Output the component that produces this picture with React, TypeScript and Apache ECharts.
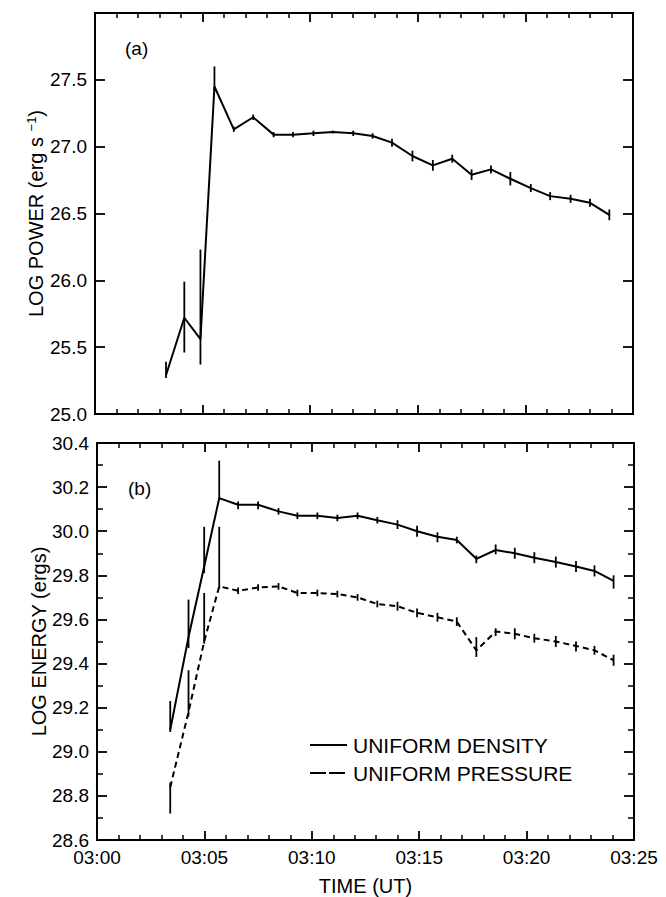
import React, { useEffect, useRef } from "react";
import * as echarts from "echarts";

// Panel (a): log power
const timesA = [3.3, 4.15, 4.9, 5.55, 6.45, 7.35, 8.3, 9.2, 10.15, 11.05, 12.0, 12.9, 13.8, 14.75, 15.7, 16.6, 17.5, 18.4, 19.3, 20.25, 21.15, 22.1, 23.0, 23.9];
const powerA = [25.29, 25.72, 25.56, 27.45, 27.13, 27.22, 27.09, 27.09, 27.10, 27.11, 27.10, 27.08, 27.03, 26.93, 26.86, 26.91, 26.79, 26.83, 26.76, 26.69, 26.63, 26.61, 26.58, 26.49];
const powerLow = [25.27, 25.46, 25.37, 27.42, 27.11, 27.20, 27.07, 27.07, 27.08, 27.10, 27.08, 27.06, 27.00, 26.89, 26.82, 26.88, 26.75, 26.80, 26.71, 26.66, 26.60, 26.58, 26.55, 26.45];
const powerHigh = [25.39, 25.99, 26.23, 27.60, 27.15, 27.24, 27.11, 27.11, 27.12, 27.12, 27.12, 27.10, 27.06, 26.97, 26.90, 26.94, 26.83, 26.86, 26.81, 26.72, 26.66, 26.64, 26.61, 26.53];

// Panel (b): log energy
const timesB = [3.41, 4.26, 4.99, 5.69, 6.57, 7.5, 8.45, 9.33, 10.26, 11.19, 12.13, 13.05, 13.99, 14.9, 15.85, 16.75, 17.66, 18.56, 19.45, 20.36, 21.36, 22.3, 23.16, 24.05];
const density = [29.10, 29.52, 29.84, 30.15, 30.12, 30.12, 30.09, 30.07, 30.07, 30.06, 30.07, 30.05, 30.03, 30.0, 29.975, 29.96, 29.875, 29.915, 29.9, 29.88, 29.86, 29.84, 29.82, 29.775];
const densityLow = [29.09, 29.47, 29.81, 30.14, 30.10, 30.10, 30.075, 30.055, 30.055, 30.045, 30.055, 30.035, 30.01, 29.975, 29.95, 29.945, 29.855, 29.895, 29.875, 29.855, 29.835, 29.815, 29.795, 29.74];
const densityHigh = [29.23, 29.69, 30.02, 30.32, 30.135, 30.135, 30.105, 30.085, 30.085, 30.075, 30.085, 30.065, 30.05, 30.025, 29.995, 29.975, 29.89, 29.94, 29.925, 29.905, 29.885, 29.865, 29.845, 29.80];
const pressure = [28.84, 29.18, 29.50, 29.75, 29.73, 29.745, 29.75, 29.72, 29.72, 29.715, 29.70, 29.67, 29.66, 29.63, 29.61, 29.59, 29.46, 29.545, 29.535, 29.515, 29.50, 29.48, 29.46, 29.415];
const pressureLow = [28.72, 29.16, 29.49, 29.74, 29.715, 29.73, 29.735, 29.705, 29.705, 29.70, 29.685, 29.655, 29.64, 29.61, 29.59, 29.57, 29.43, 29.525, 29.51, 29.495, 29.475, 29.455, 29.44, 29.39];
const pressureHigh = [28.86, 29.37, 29.72, 30.02, 29.745, 29.76, 29.765, 29.735, 29.735, 29.73, 29.715, 29.685, 29.68, 29.65, 29.63, 29.61, 29.52, 29.56, 29.56, 29.535, 29.525, 29.50, 29.48, 29.44];

const seriesNames = ["UNIFORM DENSITY", "UNIFORM PRESSURE"];
const FONT = "Liberation Sans";

function pairs(t: number[], v: number[]) {
  return t.map((x, i) => [x, v[i]]);
}
function triples(t: number[], lo: number[], hi: number[]) {
  return t.map((x, i) => [x, lo[i], hi[i]]);
}

const errRender = (params: any, api: any) => {
  const x = api.value(0);
  const p1 = api.coord([x, api.value(1)]);
  const p2 = api.coord([x, api.value(2)]);
  return {
    type: "line",
    shape: { x1: p1[0], y1: p1[1], x2: p2[0], y2: p2[1] },
    style: { stroke: "#000", lineWidth: 1.8 },
  };
};

function xAxisDef(gridIndex: number, position: string, labels: boolean) {
  return {
    type: "value",
    gridIndex,
    position,
    min: 0,
    max: 25,
    interval: 5,
    axisLine: { show: true, onZero: false, lineStyle: { color: "#000", width: 2 } },
    axisTick: { show: true, inside: true, length: 9, lineStyle: { color: "#000", width: 1.8 } },
    minorTick: { show: true, splitNumber: 5, length: 5, lineStyle: { color: "#000", width: 1.5 } },
    splitLine: { show: false },
    axisLabel: {
      show: labels,
      margin: 8,
      color: "#000",
      fontFamily: FONT,
      fontSize: 19,
      formatter: (v: number) => "03:" + String(Math.round(v)).padStart(2, "0"),
    },
  };
}

function yAxisDef(gridIndex: number, position: string, min: number, max: number, interval: number, minorSplit: number, labels: boolean) {
  return {
    type: "value",
    gridIndex,
    position,
    min,
    max,
    interval,
    axisLine: { show: true, onZero: false, lineStyle: { color: "#000", width: 2 } },
    axisTick: { show: true, inside: true, length: 10, lineStyle: { color: "#000", width: 1.8 } },
    minorTick: { show: minorSplit > 1, splitNumber: minorSplit, length: 6, lineStyle: { color: "#000", width: 1.5 } },
    splitLine: { show: false },
    axisLabel: {
      show: labels,
      margin: 8,
      color: "#000",
      fontFamily: FONT,
      fontSize: 19,
      showMaxLabel: gridIndex === 0 ? false : true,
      formatter: (v: number) => v.toFixed(1),
    },
  };
}

export default function App() {
  const ref = useRef<HTMLDivElement>(null);
  useEffect(() => {
    document.body.style.margin = "0";
    const chart = echarts.init(ref.current!, null, { renderer: "svg" });
    const yA = yAxisDef(0, "left", 25, 28, 0.5, 0, true) as any;
    yA.name = "LOG POWER (erg s {sup|−1})";
    yA.nameLocation = "middle";
    yA.nameGap = 48;
    yA.nameMoveOverlap = false;
    yA.nameTextStyle = {
      color: "#000",
      fontFamily: FONT,
      fontSize: 20,
      lineHeight: 22,
      rich: { sup: { fontSize: 13, fontFamily: FONT, color: "#000", verticalAlign: "top", lineHeight: 22, padding: [0, 0, 9, 0] } },
    };
    const yB = yAxisDef(1, "left", 28.6, 30.4, 0.2, 2, true) as any;
    yB.name = "LOG ENERGY (ergs)";
    yB.nameLocation = "middle";
    yB.nameGap = 48;
    yB.nameMoveOverlap = false;
    yB.nameTextStyle = { color: "#000", fontFamily: FONT, fontSize: 20 };
    const xB = xAxisDef(1, "bottom", true) as any;
    xB.name = "TIME (UT)";
    xB.nameLocation = "middle";
    xB.nameGap = 36;
    xB.nameTextStyle = { color: "#000", fontFamily: FONT, fontSize: 20 };

    const legendText = `21px "${FONT}"`;
    const option: any = {
      animation: false,
      backgroundColor: "#fff",
      grid: [
        { left: 95, top: 13, width: 538, height: 401 },
        { left: 97, top: 443, width: 537, height: 403 },
      ],
      xAxis: [
        xAxisDef(0, "bottom", false),
        xAxisDef(0, "top", false),
        xB,
        xAxisDef(1, "top", false),
      ],
      yAxis: [
        yA,
        yAxisDef(0, "right", 25, 28, 0.5, 0, false),
        yB,
        yAxisDef(1, "right", 28.6, 30.4, 0.2, 2, false),
      ],
      graphic: [
        { type: "text", left: 125, top: 39, style: { text: "(a)", fill: "#000", font: `19px "${FONT}"` } },
        { type: "text", left: 128, top: 479, style: { text: "(b)", fill: "#000", font: `19px "${FONT}"` } },
        { type: "line", shape: { x1: 310, y1: 745, x2: 347, y2: 745 }, style: { stroke: "#000", lineWidth: 2 } },
        { type: "text", x: 353, y: 745, style: { text: seriesNames[0], fill: "#000", font: legendText, verticalAlign: "middle" } },
        { type: "line", shape: { x1: 310, y1: 773, x2: 347, y2: 773 }, style: { stroke: "#000", lineWidth: 2, lineDash: [16, 3] } },
        { type: "text", x: 353, y: 773, style: { text: seriesNames[1], fill: "#000", font: legendText, verticalAlign: "middle" } },
      ],
      series: [
        {
          name: "LOG POWER",
          type: "line",
          xAxisIndex: 0,
          yAxisIndex: 0,
          symbol: "none",
          data: pairs(timesA, powerA),
          lineStyle: { color: "#000", width: 2 },
          itemStyle: { color: "#000" },
        },
        {
          type: "custom",
          xAxisIndex: 0,
          yAxisIndex: 0,
          renderItem: errRender,
          encode: { x: 0, y: [1, 2] },
          data: triples(timesA, powerLow, powerHigh),
        },
        {
          name: seriesNames[0],
          type: "line",
          xAxisIndex: 2,
          yAxisIndex: 2,
          symbol: "none",
          data: pairs(timesB, density),
          lineStyle: { color: "#000", width: 2 },
          itemStyle: { color: "#000" },
        },
        {
          type: "custom",
          xAxisIndex: 2,
          yAxisIndex: 2,
          renderItem: errRender,
          encode: { x: 0, y: [1, 2] },
          data: triples(timesB, densityLow, densityHigh),
        },
        {
          name: seriesNames[1],
          type: "line",
          xAxisIndex: 2,
          yAxisIndex: 2,
          symbol: "none",
          data: pairs(timesB, pressure),
          lineStyle: { color: "#000", width: 2, type: [6, 4] },
          itemStyle: { color: "#000" },
        },
        {
          type: "custom",
          xAxisIndex: 2,
          yAxisIndex: 2,
          renderItem: errRender,
          encode: { x: 0, y: [1, 2] },
          data: triples(timesB, pressureLow, pressureHigh),
        },
      ],
    };
    chart.setOption(option);
    return () => chart.dispose();
  }, []);
  return <div ref={ref} style={{ width: 666, height: 897 }} />;
}
